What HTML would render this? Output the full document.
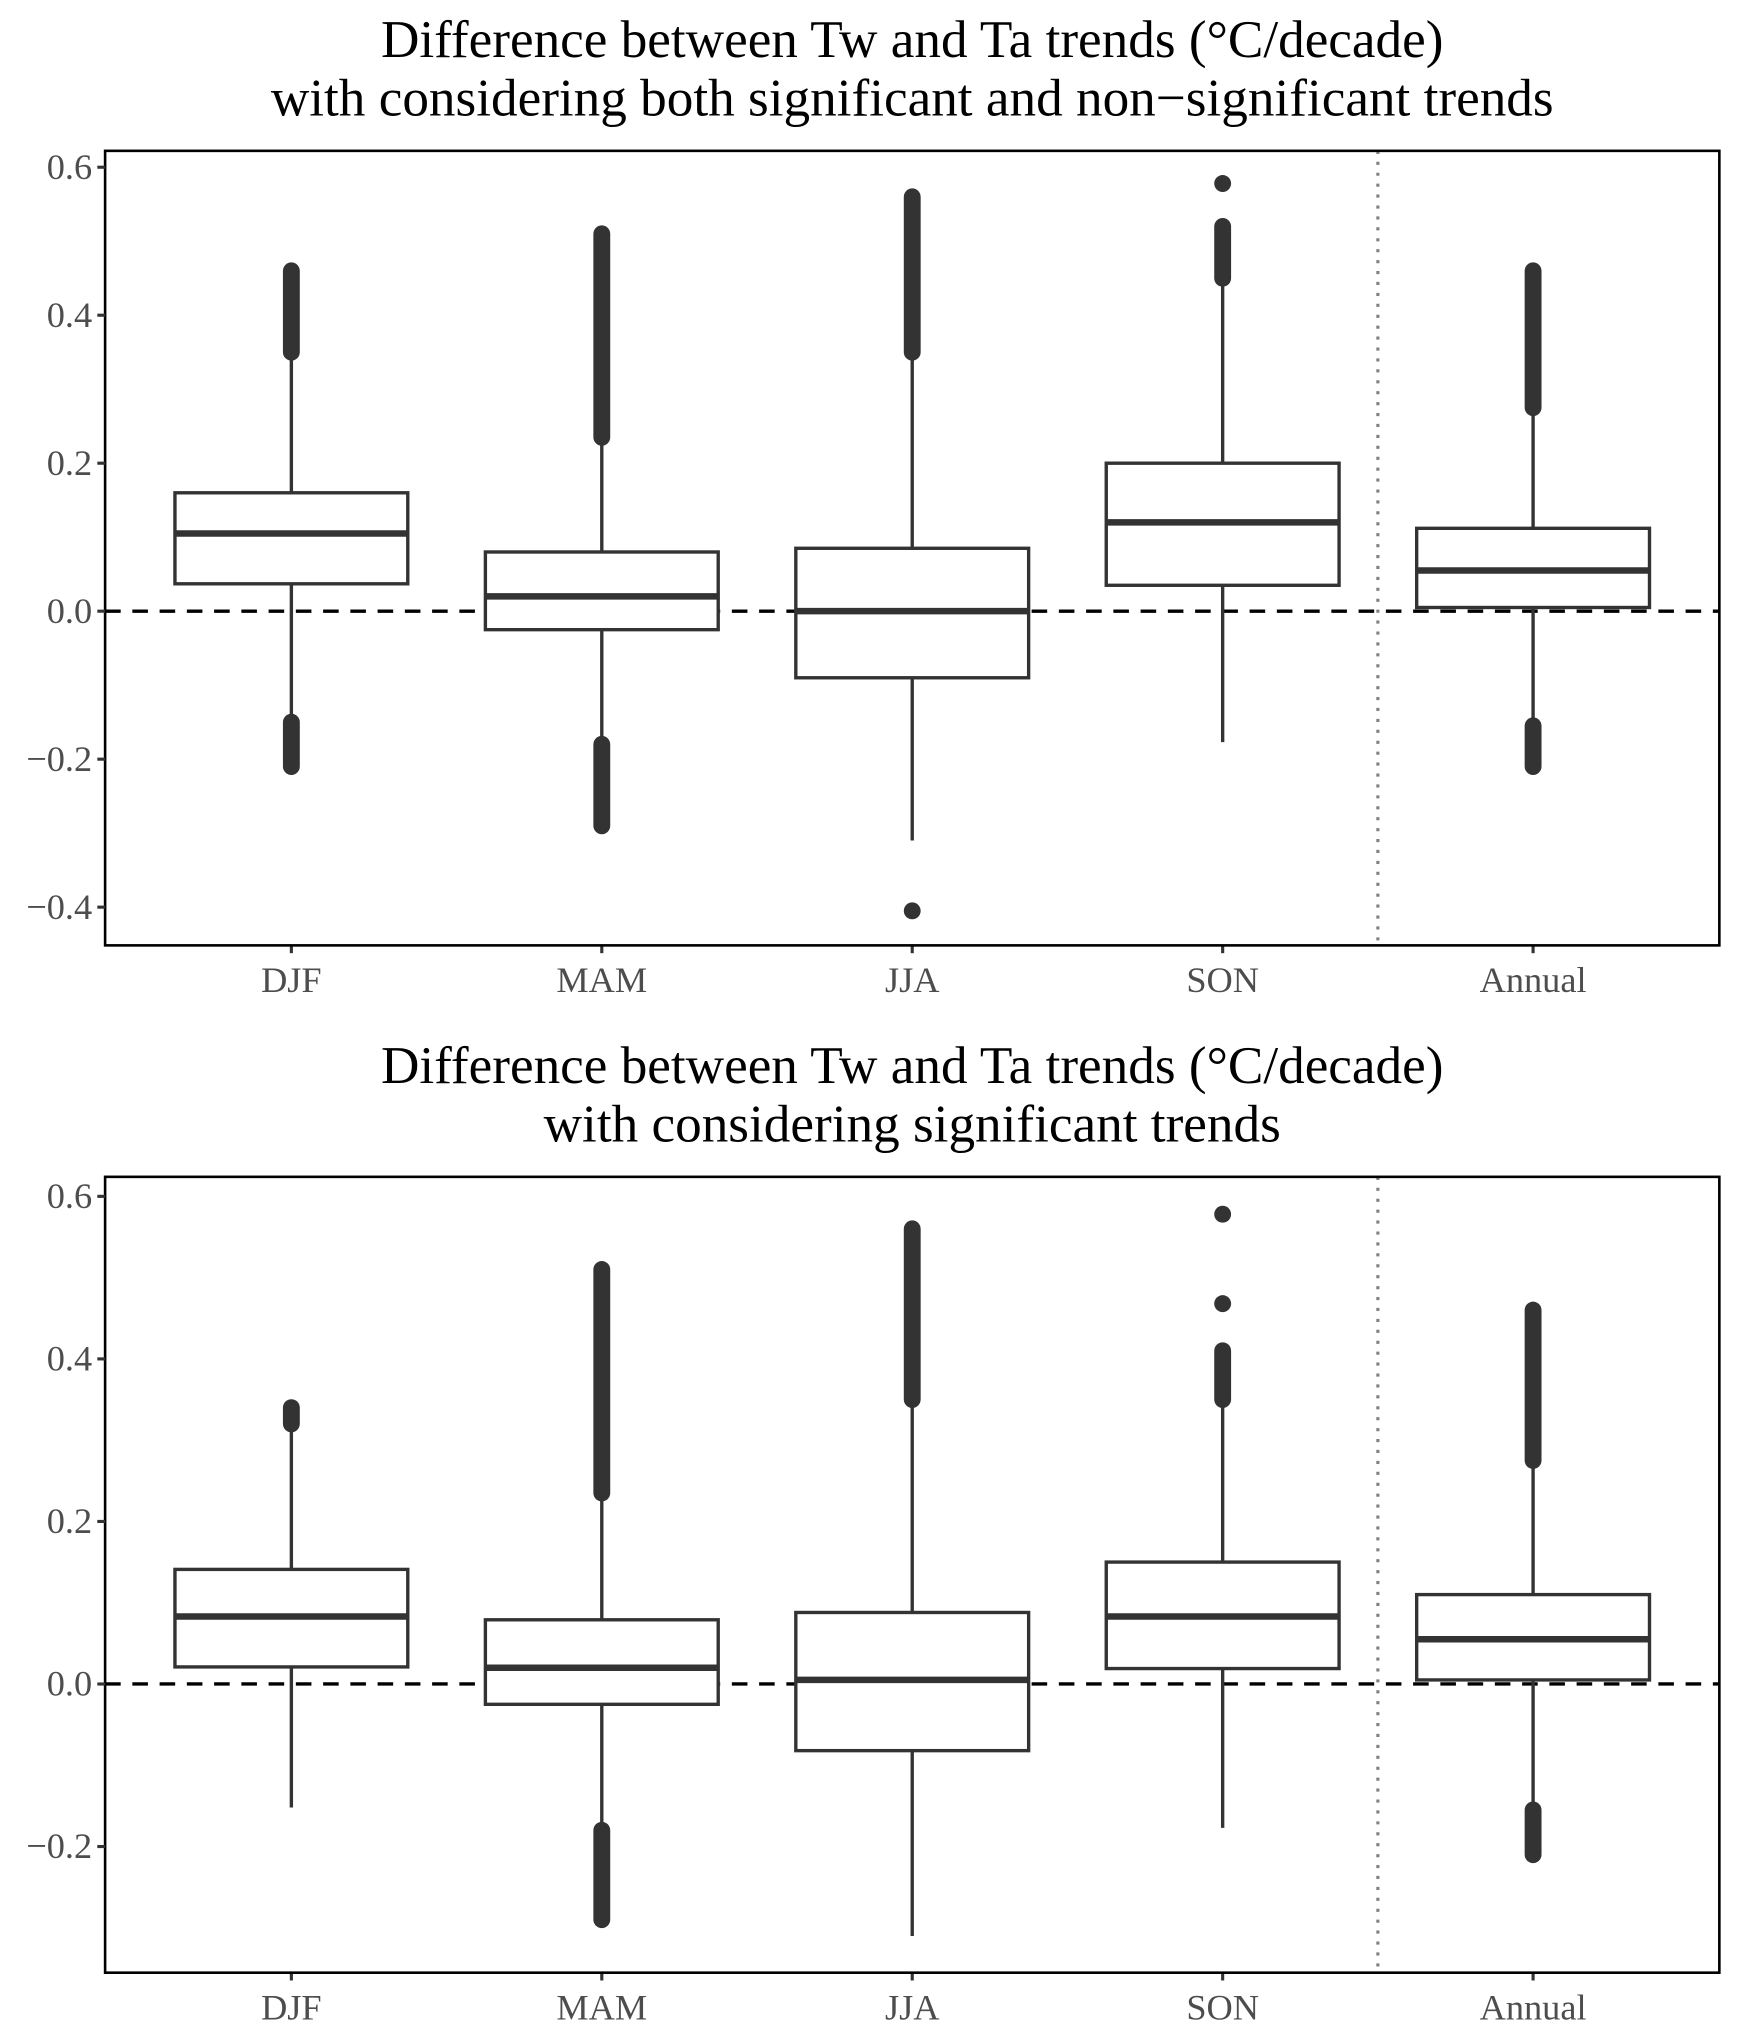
<!DOCTYPE html>
<html><head><meta charset="utf-8"><style>
html,body{margin:0;padding:0;background:#fff;}
svg{display:block;}
</style></head><body>
<svg id="fig" width="1744" height="2039" viewBox="0 0 1344 1568" preserveAspectRatio="none" xmlns="http://www.w3.org/2000/svg" font-family="Liberation Serif, serif"></svg>
<script>
const categories = ["DJF","MAM","JJA","SON","Annual"];
const yTicks1 = [0.6,0.4,0.2,0.0,-0.2,-0.4];
const yTickLabels1 = ["0.6","0.4","0.2","0.0","\u22120.2","\u22120.4"];
const yTicks2 = [0.6,0.4,0.2,0.0,-0.2];
const yTickLabels2 = ["0.6","0.4","0.2","0.0","\u22120.2"];
// Panel 1 statistics
const p1q1 = [0.037,-0.025,-0.09,0.035,0.005];
const p1med = [0.105,0.02,0.0,0.12,0.055];
const p1q3 = [0.16,0.08,0.085,0.2,0.112];
const p1whiskLo = [-0.145,-0.175,-0.31,-0.177,-0.15];
const p1whiskHi = [0.34,0.23,0.345,0.445,0.27];
const p1outHiMin = [0.35,0.235,0.35,0.45,0.275];
const p1outHiMax = [0.46,0.51,0.56,0.52,0.46];
const p1outLoMin = [-0.21,-0.29,null,null,-0.21];
const p1outLoMax = [-0.15,-0.18,null,null,-0.155];
const p1single = [[],[],[-0.405],[0.578],[]];
// Panel 2 statistics
const p2q1 = [0.021,-0.025,-0.082,0.019,0.005];
const p2med = [0.083,0.02,0.005,0.083,0.055];
const p2q3 = [0.141,0.079,0.088,0.15,0.11];
const p2whiskLo = [-0.152,-0.175,-0.31,-0.177,-0.15];
const p2whiskHi = [0.315,0.23,0.345,0.345,0.27];
const p2outHiMin = [0.32,0.235,0.35,0.35,0.275];
const p2outHiMax = [0.34,0.51,0.56,0.41,0.46];
const p2outLoMin = [null,-0.29,null,null,-0.21];
const p2outLoMax = [null,-0.18,null,null,-0.155];
const p2single = [[],[],[],[0.468,0.578],[]];

const NS="http://www.w3.org/2000/svg";
const svg=document.getElementById('fig');
function mk(tag,attrs,parent){const e=document.createElementNS(NS,tag);for(const k in attrs)e.setAttribute(k,attrs[k]);(parent||svg).appendChild(e);return e;}

function panel(cfg){
  const g=mk('g',{});
  
  
  const L=81,R=1325,T=cfg.top,B=cfg.bottom;
  const y=v=>cfg.zeroY - v*cfg.perUnit;
  const unit=(R-L)/(categories.length+0.2);
  const x=i=>L+unit*(i+0.6);
  const bw=unit*0.75;
  cfg.title.forEach((t,k)=>{
    const tx=mk('text',{x:703,y:cfg.titleY+k*45,'text-anchor':'middle','font-size':41,fill:'#000'},g);
    tx.textContent=t;
    
    
  });
  const z=mk('line',{x1:L,x2:R,y1:y(0),y2:y(0),stroke:'#000','stroke-width':2.6,'stroke-dasharray':'12 9'},g);
  
  
  const sx=L+unit*4.1;
  const d=mk('line',{x1:sx,x2:sx,y1:T,y2:B,stroke:'#808080','stroke-width':2.4,'stroke-dasharray':'2.4 6'},g);
  
  
  categories.forEach((c,i)=>{
    const bg=mk('g',{},g);
    
    
    const cx=x(i),col='#333';
    mk('line',{x1:cx,x2:cx,y1:y(cfg.q3[i]),y2:y(cfg.wh[i]),stroke:col,'stroke-width':2.6},bg);
    mk('line',{x1:cx,x2:cx,y1:y(cfg.q1[i]),y2:y(cfg.wl[i]),stroke:col,'stroke-width':2.6},bg);
    const r=6.5;
    const blob=(a,b)=>{const top=y(b),bot=y(a);mk('rect',{x:cx-r,y:top-r,width:2*r,height:bot-top+2*r,rx:r,ry:r,fill:col},bg);};
    if(cfg.ohMin[i]!=null)blob(cfg.ohMin[i],cfg.ohMax[i]);
    if(cfg.olMin[i]!=null)blob(cfg.olMin[i],cfg.olMax[i]);
    cfg.single[i].forEach(v=>mk('circle',{cx:cx,cy:y(v),r:r,fill:col},bg));
    mk('rect',{x:cx-bw/2,y:y(cfg.q3[i]),width:bw,height:y(cfg.q1[i])-y(cfg.q3[i]),fill:'#fff',stroke:col,'stroke-width':2.6},bg);
    mk('line',{x1:cx-bw/2,x2:cx+bw/2,y1:y(cfg.med[i]),y2:y(cfg.med[i]),stroke:col,'stroke-width':5},bg);
    mk('line',{x1:cx,x2:cx,y1:B,y2:B+6,stroke:'#333','stroke-width':2.4},g);
    const lt=mk('text',{x:cx,y:B+36,'text-anchor':'middle','font-size':28,fill:'#4d4d4d'},g);
    lt.textContent=c;
    
    
  });
  const f=mk('rect',{x:L,y:T,width:R-L,height:B-T,fill:'none',stroke:'#000','stroke-width':2},g);
  
  
  cfg.ticks.forEach((v,k)=>{
    mk('line',{x1:L-6,x2:L,y1:y(v),y2:y(v),stroke:'#333','stroke-width':2.4},g);
    const t=mk('text',{x:L-10,y:y(v)+9,'text-anchor':'end','font-size':28,fill:'#4d4d4d'},g);
    t.textContent=cfg.tickLabels[k];
    
    
  });
}
panel({name:'panel-all-trends',top:116,bottom:727,zeroY:470,perUnit:569,titleY:44,
  title:["Difference between Tw and Ta trends (\u00B0C/decade)","with considering both significant and non\u2212significant trends"],
  q1:p1q1,med:p1med,q3:p1q3,wl:p1whiskLo,wh:p1whiskHi,ohMin:p1outHiMin,ohMax:p1outHiMax,olMin:p1outLoMin,olMax:p1outLoMax,single:p1single,
  ticks:yTicks1,tickLabels:yTickLabels1});
panel({name:'panel-significant-trends',top:905,bottom:1517,zeroY:1295,perUnit:625,titleY:833,
  title:["Difference between Tw and Ta trends (\u00B0C/decade)","with considering significant trends"],
  q1:p2q1,med:p2med,q3:p2q3,wl:p2whiskLo,wh:p2whiskHi,ohMin:p2outHiMin,ohMax:p2outHiMax,olMin:p2outLoMin,olMax:p2outLoMax,single:p2single,
  ticks:yTicks2,tickLabels:yTickLabels2});
</script>
</body></html>
